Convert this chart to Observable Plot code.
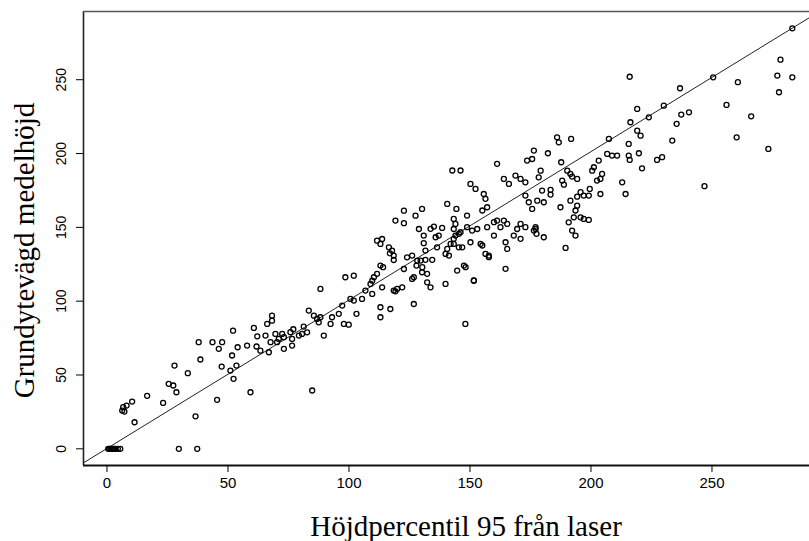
<!DOCTYPE html>
<html><head><meta charset="utf-8">
<script src="https://cdn.jsdelivr.net/npm/d3@7"></script>
<script src="https://cdn.jsdelivr.net/npm/@observablehq/plot@0.6"></script>
<style>html,body{margin:0;padding:0;background:#fff;overflow:hidden}</style>
</head><body><div id="chart"></div>
<script>
// Höjdpercentil 95 från laser (x) and grundytevägd medelhöjd (y)
const laserX = [
0.5,1,1.5,2,2.5,3,3.5,4.5,5.5,29.7,37.3,11.4,6.3,8.1,10.4,7.2,6.7,16.6,23.2,25.5,
27.4,28.7,27.9,33.4,36.6,37.9,38.6,43.6,47.6,46.2,47.4,45.5,52.1,51.7,54,57.9,53.5,51,52.3,59.3,
60.7,62.1,65.5,66.2,61.8,63.4,66.9,68.2,67.6,70.3,73.1,76.5,72.4,75.8,76.5,68.2,69.6,71,73.1,77,
79.3,80.6,82.7,83.4,85.5,88.2,86.8,87.5,89.6,92.4,93,97.2,97.9,100.6,102,103.1,105.4,106.8,108.9,110.3,
109.6,109.6,113.7,113,117.1,113,118.5,119.9,122,119.2,126.8,126.8,130.2,132.3,133.7,139.9,151.6,88.2,98.5,102,
84.8,148.1,111.6,113.7,113,116.5,117.8,118.5,116.9,118.5,124,126.1,128.2,127.9,128.9,127.5,122.7,119.2,122.7,111.6,
114.1,113,122.7,126.1,130.2,133.7,135.1,138.5,137.1,135.8,130.9,130.9,131.6,129.6,131.6,134.4,130.3,132.3,136.4,140.6,
142,143.3,143.3,145.4,146.8,141.3,139.9,144,145.4,146.1,140.6,143.3,144,143.3,144.4,148.8,142.7,146.1,150.2,152.3,
155.7,156.4,155.1,157.1,148.8,150.9,153,157.1,159.9,161.2,162.6,164,165.4,150.2,154.4,155.1,157.8,157.8,156.4,151.6,
147.5,148.2,144.7,159.9,164.7,165.4,168.1,169.5,170.9,172.9,176.4,177.1,170.9,164.7,161.2,164,166.1,168.8,170.9,172.9,
173.6,176.4,172.9,174.3,175.7,177.8,179.2,219.1,230.1,223.9,216.3,219.1,220.5,207.4,186,186.7,191.8,182.2,175.7,187.7,
178.4,190.2,191.5,192.2,194.3,188.1,188.8,179.8,183.3,183.3,180.5,187.4,191.5,194.3,195.7,197,199.1,199.5,194.3,193.6,
192.9,195.7,197,199.1,190.8,192.2,193.6,177.1,177.5,180.5,189.5,203.9,214.3,212.9,221.1,206.7,208.7,210.8,215.6,216,
219.8,227.3,229.4,200.5,201.2,203.2,202.5,203.9,204.6,215.6,283.2,278.3,277,283.2,277.7,250.5,236.8,260.7,256,266.2,
260.2,273.3,246.9,237.3,240.5,235.4,233.6,216,81.3,95.8,99.9
];
const medelY = [
0,0,0,0,0,0,0,0,0,0,0,18,25.9,29.3,32,25.2,28.2,35.9,31.1,44,
42.9,38.3,56.4,51.2,22,72.2,60.5,72.2,72.2,67.7,55.7,33.2,80,63.2,68.8,69.9,56.4,53,47.4,38.3,
81.9,76.2,76.7,84.6,69.3,66.5,65.4,90.2,72.2,72.2,67.7,69.9,77.8,79,74.4,86.8,77.8,74.4,75.6,81,
76.7,77.8,78.9,93.6,90.2,89.1,88,85.7,76.7,84.6,89.1,97,84.6,101.5,100.4,91.4,101.5,107.2,111.7,116.2,
113.9,104.9,109.4,95.9,94.7,89.1,107.2,108.3,109.4,106.7,116.2,98.1,119.6,112.8,109.4,111.7,113.9,108.3,116.2,117.3,
39.5,84.6,141,142.1,138.8,136.5,134.2,130.9,132.4,127.9,129.7,130.9,127.5,124.1,148.9,157.9,161.3,154.6,152.8,118.5,
123,124.1,121.8,115.1,162.5,149,150.5,149.6,144.4,143.3,144.4,139.3,134.3,127.5,128,128,123,118.5,136.5,135.4,
138.8,138.8,142.2,136.5,136.5,130.9,132,144.4,145.6,146.7,165.9,155.7,152.3,148.9,162.5,158,188.5,188.5,179.4,176,
172.6,169.3,161.4,163.6,150.1,147.8,148.9,150.1,153.5,154.6,150.1,154.6,152.3,139.9,138.8,137.7,130.9,129.8,132,114,
124.1,123,120.7,144.4,139.9,135.4,144.4,148.9,152.3,150.1,147.8,148.9,142.2,121.9,193,182.8,179.4,185.1,182.8,180.5,
195.2,202,171.5,167,162.5,168.1,188.4,230.2,232.4,224.5,221.2,215.5,212.1,209.9,211,207.6,209.9,200.2,196.3,194.1,
183.9,188.4,186.2,184.4,182.8,181.7,178.9,174.9,175.4,172.2,167,163.6,168.1,170.8,173.8,171.5,171.5,176,164.7,161.4,
156.8,156.8,155.7,155,153.4,147.8,144.4,150.1,145.6,143.3,136.1,172.6,172.6,180.5,190,199.7,198.6,198.6,198.6,195.7,
200.2,195.7,197.5,188.4,190.7,195.2,181.7,182.8,186.2,206.5,284.8,263.6,252.8,251.6,241.5,251.6,244.2,248.3,232.9,225.2,
211,203.1,177.9,226.4,227.9,220.1,208.8,252,82.8,91.4,84.1
];
// fitted line end points
const lineX = [-10, 295];
const lineY = [-9.8, 296.8];
// axes
const xTicks = [0, 50, 100, 150, 200, 250];
const yTicks = [0, 50, 100, 150, 200, 250];
const xDomain = [-9.7, 290.3];
const yDomain = [-11.3, 296.2];
const xTitle = "Höjdpercentil 95 från laser";
const yTitle = "Grundytevägd medelhöjd";

const points = laserX.map((x, i) => ({x, y: medelY[i]}));
const fit = lineX.map((x, i) => ({x, y: lineY[i]}));
const serif = "'Liberation Serif', 'Times New Roman', serif";

const chart = Plot.plot({
  width: 809, height: 541,
  marginLeft: 83, marginRight: 0, marginTop: 11, marginBottom: 76,
  style: {fontFamily: "'Liberation Sans', Arial, sans-serif", fontSize: "15px", background: "#fff", color: "#000"},
  x: {domain: xDomain},
  y: {domain: yDomain},
  marks: [
    Plot.line(fit, {x: "x", y: "y", stroke: "#222", strokeWidth: 1, clip: true}),
    Plot.dot(points, {x: "x", y: "y", r: 2.5, stroke: "#000", strokeWidth: 1.3, fill: "none"}),
    Plot.ruleX([xDomain[0]], {stroke: "#222", strokeWidth: 1.6}),
    Plot.ruleY([yDomain[0]], {stroke: "#111", strokeWidth: 1.8}),
    Plot.ruleY([yDomain[1]], {stroke: "#555", strokeWidth: 1.6}),
    Plot.axisX({ticks: xTicks, tickSize: 7, tickPadding: 5, label: null, fontSize: 15}),
    Plot.axisY({ticks: yTicks, tickSize: 7, tickFormat: () => "", label: null}),
    Plot.text(yTicks, {y: d => d, text: d => String(d), frameAnchor: "left", dx: -18, rotate: -90,
      textAnchor: "middle", lineAnchor: "bottom", fontSize: 14}),
    Plot.text([xTitle], {text: d => d, frameAnchor: "bottom", dx: 19.5, dy: 70, lineAnchor: "bottom",
      textAnchor: "middle", fontFamily: serif, fontSize: 29}),
    Plot.text([yTitle], {text: d => d, frameAnchor: "left", dx: -50, dy: 12, rotate: -90, lineAnchor: "bottom",
      textAnchor: "middle", fontFamily: serif, fontSize: 29})
  ]
});
document.getElementById("chart").appendChild(chart);
</script>
</body></html>
